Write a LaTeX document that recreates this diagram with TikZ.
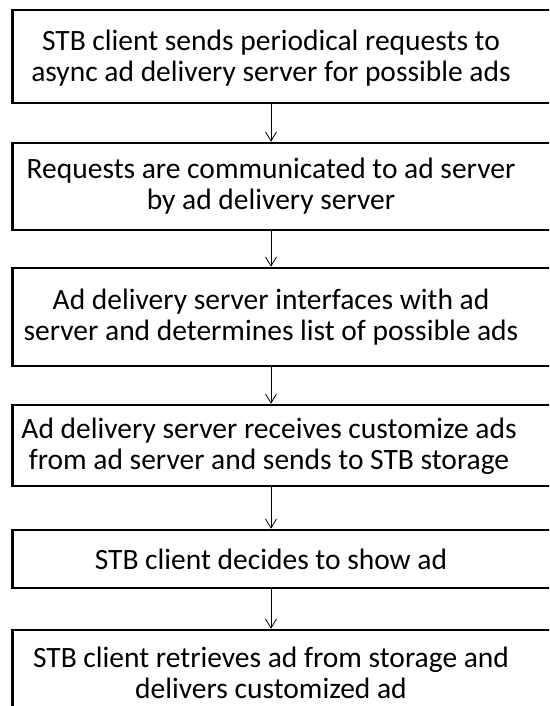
\documentclass[tikz,border=0pt]{standalone}
\usepackage{fontspec}
\setmainfont{Carlito}
\usepackage{tikz}
\usetikzlibrary{arrows.meta}
\definecolor{line}{HTML}{000000}
\definecolor{text}{HTML}{000000}
\tikzset{
  stepbox/.style={draw=line, line width=2.6pt, minimum width=547pt, inner sep=0pt},
  steptext/.style={text=text, align=center, inner sep=0pt,
    font=\fontsize{29.5}{31}\selectfont},
  flow/.style={-{Straight Barb[length=9pt,width=11pt]}, color=line, line width=0.8pt},
}

\begin{document}
\begin{tikzpicture}[x=1pt,y=-1pt]
\useasboundingbox (0,0) rectangle (549,706);
\clip (0,0) rectangle (549,706);
% boxes
\node[stepbox, minimum height=93pt] (b1) at (286,56.5) {};
\node[stepbox, minimum height=87pt] (b2) at (286,186.5) {};
\node[stepbox, minimum height=98pt] (b3) at (286,317) {};
\node[stepbox, minimum height=81pt] (b4) at (286,445.5) {};
\node[stepbox, minimum height=58pt] (b5) at (286,559) {};
\node[stepbox, minimum height=100pt] (b6) at (286,680) {};
% texts
\node[steptext] (t1) at (271,58) {STB client sends periodical requests to\\async ad delivery server for possible ads};
\node[steptext] (t2) at (271,186) {Requests are communicated to ad server\\by ad delivery server};
\node[steptext] (t3) at (271,317) {Ad delivery server interfaces with ad\\server and determines list of possible ads};
\node[steptext] (t4) at (269,446) {Ad delivery server receives customize ads\\from ad server and sends to STB storage};
\node[steptext] (t5) at (271,559) {STB client decides to show ad};
\node[steptext] (t6) at (271,673) {STB client retrieves ad from storage and\\delivers customized ad};
% arrows
\foreach \a/\b in {b1/b2,b2/b3,b3/b4,b4/b5,b5/b6}{
  \draw[flow] (t1 |- \a.south) -- (t1 |- \b.north);
}
\end{tikzpicture}
\end{document}
